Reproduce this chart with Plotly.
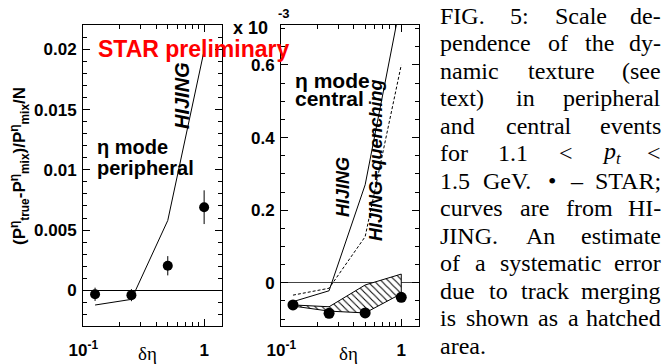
import plotly.graph_objects as go

W, H = 663, 364

# ---------------- data ----------------
eta = [0.125, 0.25, 0.5, 1.0]
periph_star = [-0.00033, -0.0004, 0.00204, 0.0069]
periph_err = [0.00055, 0.0005, 0.0008, 0.0014]
periph_hijing = [-0.00122, -0.00075, 0.0058, 0.0199]

central_star = [-0.061, -0.084, -0.083, -0.040]          # units of 1e-3
central_hijing = [-0.052, -0.022, 0.27, 0.78]
central_quench = [-0.034, -0.015, 0.127, 0.60]
band_upper = [-0.061, -0.066, -0.006, 0.024]
band_lower = [-0.064, -0.078, -0.083, -0.030]

left_yticks = [0, 0.005, 0.01, 0.015, 0.02]
left_yticktext = ["0", "0.005", "0.01", "0.015", "0.02"]
right_yticks = [0, 0.2, 0.4, 0.6]
right_yticktext = ["0", "0.2", "0.4", "0.6"]
x_major = [0.1, 1.0]
x_major_text = ["10<sup>-1</sup>", "1"]
x_minor = [0.2, 0.3, 0.4, 0.5, 0.6, 0.7, 0.8, 0.9]

caption_lines = [
    "FIG. 5: Scale de-",
    "pendence of the dy-",
    "namic texture (see",
    "text) in peripheral",
    "and central events",
    "for 1.1 < p_t <",
    "1.5 GeV. • – STAR;",
    "curves are from HI-",
    "JING. An estimate",
    "of a systematic error",
    "due to track merging",
    "is shown as a hatched",
    "area.",
]


def px(x):
    return x / W


def py(y):
    return 1 - y / H


fig = go.Figure()

# ---- left panel ----
fig.add_trace(go.Scatter(x=eta, y=periph_hijing, mode="lines",
                         line=dict(color="black", width=1), xaxis="x", yaxis="y",
                         showlegend=False))
fig.add_trace(go.Scatter(x=eta, y=periph_star, mode="markers",
                         marker=dict(color="black", size=10),
                         error_y=dict(type="data", array=periph_err, color="black",
                                      thickness=1, width=0),
                         xaxis="x", yaxis="y", showlegend=False))

# ---- right panel ----
band_x = eta + eta[::-1]
band_y = band_upper + band_lower[::-1]
fig.add_trace(go.Scatter(x=band_x, y=band_y, mode="lines", fill="toself",
                         fillcolor="white",
                         fillpattern=dict(shape="\\", fgcolor="black", bgcolor="white",
                                          size=5, solidity=0.2),
                         line=dict(color="black", width=1),
                         xaxis="x2", yaxis="y2", showlegend=False))
fig.add_trace(go.Scatter(x=eta, y=central_hijing, mode="lines",
                         line=dict(color="black", width=1),
                         xaxis="x2", yaxis="y2", showlegend=False))
fig.add_trace(go.Scatter(x=eta, y=central_quench, mode="lines",
                         line=dict(color="black", width=1, dash="3px,2px"),
                         xaxis="x2", yaxis="y2", showlegend=False))
fig.add_trace(go.Scatter(x=eta, y=central_star, mode="markers",
                         marker=dict(color="black", size=11),
                         xaxis="x2", yaxis="y2", showlegend=False))

tickfont = dict(family="Liberation Sans, Arial", size=17, color="black", weight="bold")


def xaxis_cfg(dom, anchor):
    return dict(domain=dom, anchor=anchor, type="log", range=[-1.003, 0.148],
                automargin=False,
                showline=True, mirror="ticks", linecolor="black", linewidth=1,
                ticks="inside", ticklen=7, tickcolor="black",
                tickmode="array", tickvals=x_major, ticktext=x_major_text,
                minor=dict(tickmode="array", tickvals=x_minor, ticks="inside",
                           ticklen=4, tickcolor="black"),
                tickfont=tickfont, ticklabelstandoff=9,
                showgrid=False, zeroline=False)


def yaxis_cfg(dom, anchor, rng, tv, tt, minor_dtick, zcol):
    return dict(domain=dom, anchor=anchor, range=rng, automargin=False,
                showline=True, mirror="ticks", linecolor="black", linewidth=1,
                ticks="inside", ticklen=7, tickcolor="black",
                tickmode="array", tickvals=tv, ticktext=tt,
                minor=dict(dtick=minor_dtick, ticks="inside", ticklen=4,
                           tickcolor="black"),
                tickfont=tickfont, ticklabelstandoff=2,
                showgrid=False, zeroline=True, zerolinecolor=zcol, zerolinewidth=1)


ydom = [py(326), py(25)]
fig.update_layout(
    template="none",
    width=W, height=H, autosize=False,
    margin=dict(l=0, r=0, t=0, b=0, pad=0, autoexpand=False),
    paper_bgcolor="white", plot_bgcolor="white", showlegend=False,
    xaxis=xaxis_cfg([px(83), px(222)], "y"),
    yaxis=yaxis_cfg(ydom, "x", [-0.00296, 0.02202], left_yticks, left_yticktext,
                    0.001, "black"),
    xaxis2=xaxis_cfg([px(281), px(419)], "y2"),
    yaxis2=yaxis_cfg(ydom, "x2", [-0.119, 0.71], right_yticks, right_yticktext,
                     0.05, "#444"),
)

ann = []
sans = "Liberation Sans, Arial"
serif = "Liberation Serif, Times New Roman"


def add(text, x, y, size, xanchor="center", yanchor="middle", angle=0,
        color="black", family=sans, weight="normal"):
    ann.append(dict(text=text, x=px(x), y=py(y), xref="paper", yref="paper",
                    showarrow=False, xanchor=xanchor, yanchor=yanchor,
                    textangle=angle, borderpad=0,
                    font=dict(family=family, size=size, color=color, weight=weight)))


# left panel texts
add("STAR preliminary", 97, 49, 23, xanchor="left", color="red", weight="bold")
add("η mode", 96, 147, 20, xanchor="left", weight="bold")
add("peripheral", 96, 168, 20, xanchor="left", weight="bold")
add("<i>HIJING</i>", 182, 96, 20, angle=-90, weight="bold")
add("(P<sup>η</sup><sub>true</sub>-P<sup>η</sup><sub>mix</sub>)/P<sup>η</sup><sub>mix</sub>/N",
    20, 166, 17, angle=-90, weight="bold")
add("δη", 147, 353, 19, family=serif)

# right panel texts
add("x 10", 232, 28, 18, xanchor="left", weight="bold")
add("-3", 277, 14, 13, xanchor="left", weight="bold")
add("η mode", 294, 80, 21, xanchor="left", weight="bold")
add("central", 294, 99, 21, xanchor="left", weight="bold")
add("<i>HIJING</i>", 343, 187, 18, angle=-90, weight="bold")
add("<i>HIJING+quenching</i>", 376, 160, 18, angle=-90, weight="bold")
add("δη", 348, 353, 19, family=serif)

# caption, justified between x0 and x1 using Times-like widths
TW = {' ': 250, '(': 333, ')': 333, '.': 250, ',': 250, ':': 278, ';': 278,
      '-': 333, '<': 564, '•': 350, '–': 500}
for c in '0123456789':
    TW[c] = 500
TW.update(dict(A=722, B=667, C=667, D=722, E=611, F=556, G=722, H=722, I=333,
               J=389, K=722, L=611, M=889, N=722, O=722, P=556, Q=722, R=667,
               S=556, T=611, U=722, V=722, W=944, X=722, Y=722, Z=611))
TW.update(dict(a=444, b=500, c=444, d=500, e=444, f=333, g=500, h=500, i=278,
               j=278, k=500, l=278, m=778, n=500, o=500, p=500, q=500, r=333,
               s=389, t=278, u=500, v=500, w=722, x=500, y=500, z=444))

CAP_SIZE = 24
CX0, CX1 = 439, 662
line_y = [16, 43, 71, 98, 126, 153, 181, 208, 236, 263, 291, 318, 346]


def wwidth(word):
    if word == "p_t":
        return (500 + 0.7 * 278) * CAP_SIZE / 1000
    return sum(TW.get(ch, 500) for ch in word) * CAP_SIZE / 1000


def wtext(word):
    if word == "p_t":
        return "<i>p</i><sub><i>t</i></sub>"
    return word.replace("<", "&lt;")


for li, (line, yy) in enumerate(zip(caption_lines, line_y)):
    words = line.split(" ")
    widths = [wwidth(w) for w in words]
    last = li == len(caption_lines) - 1
    if last or len(words) == 1:
        gap = 0.25 * CAP_SIZE
    else:
        gap = (CX1 - CX0 - sum(widths)) / (len(words) - 1)
    x = CX0
    for i, (w, wd) in enumerate(zip(words, widths)):
        if i == len(words) - 1 and not last and len(words) > 1:
            add(wtext(w), CX1, yy, CAP_SIZE, xanchor="right", family=serif)
        else:
            add(wtext(w), x, yy, CAP_SIZE, xanchor="left", family=serif)
        x += wd + gap

fig.update_layout(annotations=ann)
fig.write_html("out.html")
